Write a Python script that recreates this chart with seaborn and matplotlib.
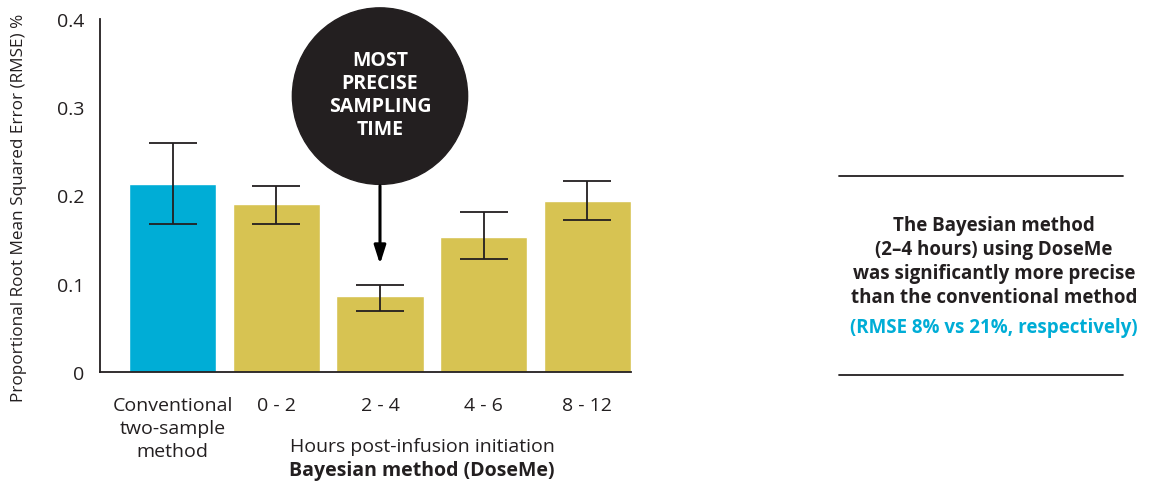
import numpy as np
import pandas as pd
import matplotlib.pyplot as plt
import seaborn as sns
from matplotlib.patches import Ellipse

sns.set_style('white')
plt.rcParams['font.family'] = ['Open Sans', 'DejaVu Sans']

# data
groups = ['Conventional\ntwo-sample\nmethod', '0 - 2', '2 - 4', '4 - 6', '8 - 12']
rmse = [0.2125, 0.190, 0.0855, 0.153, 0.1935]
err_low = [0.168, 0.168, 0.069, 0.128, 0.172]
err_high = [0.259, 0.2105, 0.099, 0.181, 0.216]
bar_colors = ['#00ADD6', '#D7C352', '#D7C352', '#D7C352', '#D7C352']

df = pd.DataFrame({'group': groups, 'rmse': rmse})

fig = plt.figure(figsize=(11.52, 4.85), dpi=100)
ax = fig.add_axes([0.0868, 0.231, 0.4609, 0.728])

sns.barplot(data=df, x='group', y='rmse', hue='group', palette=bar_colors,
            width=0.84, legend=False, ax=ax, saturation=1)

xs = np.arange(len(groups))
lo = np.array(rmse) - np.array(err_low)
hi = np.array(err_high) - np.array(rmse)
ax.errorbar(xs, rmse, yerr=[lo, hi], fmt='none', ecolor='#231f20',
            elinewidth=1.3, capsize=17, capthick=1.3)

ax.set_xlim(-0.70, 4.42)
ax.set_ylim(0, 0.4)
ax.set_yticks([0, 0.1, 0.2, 0.3, 0.4])
ax.set_yticklabels(['0', '0.1', '0.2', '0.3', '0.4'])
ax.tick_params(axis='both', length=0, labelsize=14, colors='#231f20')
ax.tick_params(axis='x', pad=17)
ax.tick_params(axis='y', pad=11)
for lbl in ax.get_xticklabels():
    lbl.set_linespacing(1.38)
ax.set_xlabel('')
ax.set_ylabel('Proportional Root Mean Squared Error (RMSE) %', fontsize=12.3,
              color='#231f20')
ax.yaxis.set_label_coords(-0.138, 0.467)
sns.despine(ax=ax)
for s in ['left', 'bottom']:
    ax.spines[s].set_color('#231f20')
    ax.spines[s].set_linewidth(1.3)

# x axis group titles
fig.text(422 / 1152, 1 - 447 / 485, 'Hours post-infusion initiation', ha='center',
         va='center', fontsize=14, color='#231f20')
fig.text(422 / 1152, 1 - 471 / 485, 'Bayesian method (DoseMe)', ha='center',
         va='center', fontsize=14, color='#231f20', fontweight='bold')

# callout
circ = Ellipse((2, 0.3125), width=1.69, height=0.2, color='#231f20', clip_on=False, zorder=5)
ax.add_patch(circ)
ax.text(2, 0.3145, 'MOST\nPRECISE\nSAMPLING\nTIME', ha='center', va='center', color='white',
        fontsize=14, fontweight='bold', linespacing=1.2, zorder=6)
ax.annotate('', xy=(2, 0.119), xytext=(2, 0.214),
            arrowprops=dict(arrowstyle='-|>,head_width=0.35,head_length=1.1',
                            color='black', lw=2.2), zorder=6)

# right side note
fig.add_artist(plt.Line2D([839 / 1152, 1123 / 1152], [1 - 177 / 485] * 2, color='#231f20', lw=1.3))
fig.add_artist(plt.Line2D([839 / 1152, 1123 / 1152], [1 - 376 / 485] * 2, color='#231f20', lw=1.3))
fig.text(994 / 1152, 1 - 262 / 485,
         'The Bayesian method\n(2\u20134 hours) using DoseMe\nwas significantly more precise\nthan the conventional method',
         ha='center', va='center', fontsize=13.5, fontweight='bold', color='#231f20', linespacing=1.28)
fig.text(994 / 1152, 1 - 328 / 485, '(RMSE 8% vs 21%, respectively)', ha='center', va='center',
         fontsize=13.5, fontweight='bold', color='#00ADD6')

plt.savefig('out.png', dpi=100)
